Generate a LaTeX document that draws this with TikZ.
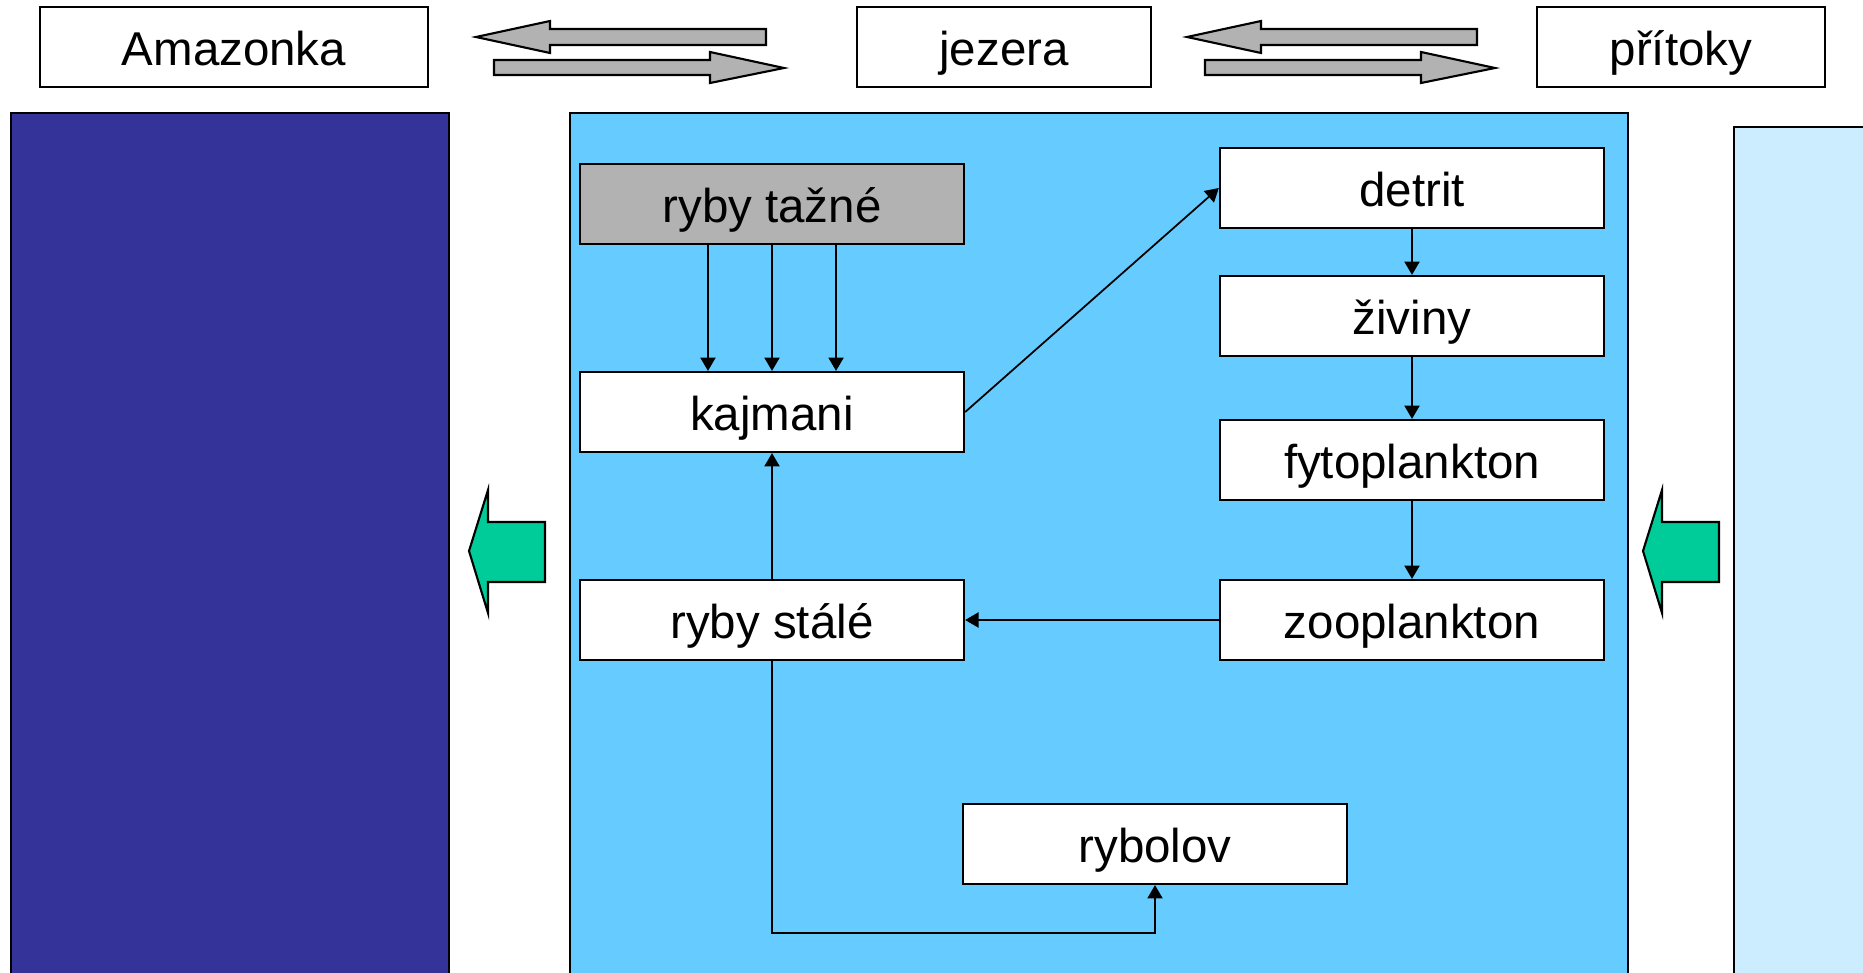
\documentclass[tikz,border=0pt]{standalone}
\usepackage{fontspec}
\setmainfont{Liberation Sans}
\usetikzlibrary{arrows.meta}
\definecolor{amazblue}{HTML}{333399}
\definecolor{lakeblue}{HTML}{66CCFF}
\definecolor{tribblue}{HTML}{CCECFF}
\definecolor{flowgreen}{HTML}{00CC99}
\definecolor{fishgray}{HTML}{B2B2B2}
\tikzset{
  box/.style={draw, line width=0.6pt, fill=white, minimum height=0.8cm,
    minimum width=3.84cm, inner sep=0pt, text height=0.4cm, text depth=0.03cm,
    font=\fontsize{13.5pt}{16pt}\selectfont},
  panel/.style={draw, line width=0.6pt},
  flow/.style={line width=0.5pt, -{Triangle[length=3.8pt,width=4.3pt]}},
  swap/.style={draw, line width=0.6pt, fill=fishgray},
  push/.style={draw, line width=0.6pt, fill=flowgreen},
}

\begin{document}
\begin{tikzpicture}[x=0.01cm, y=-0.01cm]
      \useasboundingbox (0,0) rectangle (1863,973);

      % panels
      \path[panel, fill=amazblue] (11,113) rectangle (449,990);
      \path[panel, fill=lakeblue] (570,113) rectangle (1628,990);
      \path[panel, fill=tribblue] (1734,127) rectangle (1880,990);

      % top row
      \node[box, minimum width=3.87cm] (amaz) at (234,47) {Amazonka};
      \node[box, minimum width=2.94cm] (jez)  at (1004,47) {jezera};
      \node[box, minimum width=2.87cm] (prit) at (1681,47) {přítoky};

      % exchange arrows
      \foreach \dx in {0,711} {
        \begin{scope}[xshift=\dx*0.01cm]
          \path[swap] (476,37) -- (550,21) -- (550,29) -- (766,29) -- (766,45)
            -- (550,45) -- (550,53) -- cycle;
          \path[swap] (494,60) -- (710,60) -- (710,52) -- (784,68) -- (710,83)
            -- (710,75) -- (494,75) -- cycle;
        \end{scope}
      }

      % inflow arrows
      \foreach \dx in {0,1174} {
        \begin{scope}[xshift=\dx*0.01cm]
          \path[push] (469,551) -- (488,490) -- (488,522) -- (545,522)
            -- (545,582) -- (488,582) -- (488,613) -- cycle;
        \end{scope}
      }

      % lake food web
      \node[box, fill=fishgray] (taz) at (772,204) {ryby tažné};
      \node[box] (kaj)  at (772,412)  {kajmani};
      \node[box] (sta)  at (772,620)  {ryby stálé};
      \node[box] (det)  at (1412,188) {detrit};
      \node[box] (ziv)  at (1412,316) {živiny};
      \node[box] (fyto) at (1412,460) {fytoplankton};
      \node[box] (zoo)  at (1412,620) {zooplankton};
      \node[box] (lov)  at (1155,844) {rybolov};

      \foreach \s in {-0.64cm,0cm,0.64cm}
        \draw[flow] ([xshift=\s]taz.south) -- ([xshift=\s]kaj.north);
      \draw[flow] (kaj.east) -- (det.west);
      \draw[flow] (det) -- (ziv);
      \draw[flow] (ziv) -- (fyto);
      \draw[flow] (fyto) -- (zoo);
      \draw[flow] (zoo) -- (sta);
      \draw[flow] (sta) -- (kaj);
      \draw[flow] (sta.south) -- ++(0,272) -| (lov.south);
\end{tikzpicture}
\end{document}
